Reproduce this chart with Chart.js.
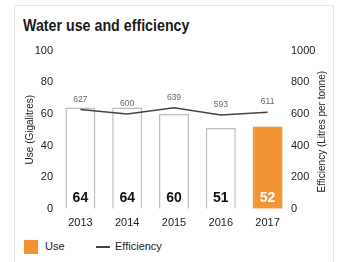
<!DOCTYPE html>
<html>
<head>
<meta charset="utf-8">
<script src="https://cdn.jsdelivr.net/npm/chart.js@4/dist/chart.umd.min.js"></script>
<style>
  html, body { margin: 0; padding: 0; background: #fff; }
  body { width: 343px; height: 262px; position: relative; overflow: hidden;
         font-family: 'Liberation Sans', Arial, sans-serif; }
  .card { position: absolute; left: 14px; top: 5px; width: 320px; height: 270px;
          border: 1px solid #e6e6e6; box-sizing: border-box; }
  .titulo { position: absolute; left: 23px; top: 17px; font-size: 16px; font-weight: bold;
            color: #1a1a1a; transform: scaleX(0.89); transform-origin: left top;
            white-space: nowrap; }
  #wrap { position: absolute; left: 15px; top: 40px; width: 322px; height: 198px; }
  .leyenda { position: absolute; top: 238px; left: 24px; font-size: 11px; color: #222; }
  .leyenda span { position: absolute; white-space: nowrap; }
  .caja { left: 0; top: 2px; width: 14px; height: 14px; background: #f39433; }
  .raya { left: 72px; top: 8px; width: 14px; height: 2px; background: #444; }
</style>
</head>
<body>
<div class="card"></div>
<div class="titulo">Water use and efficiency</div>
<div id="wrap"><canvas id="grafico"></canvas></div>
<div class="leyenda">
  <span class="caja"></span><span style="left:21px;top:2px">Use</span>
  <span class="raya"></span><span style="left:91px;top:2px">Efficiency</span>
</div>
<script>
// datos
const YEARS = ['2013', '2014', '2015', '2016', '2017'];
const USE = [64, 64, 60, 51, 52];             // Gigalitres
const EFFICIENCY = [627, 600, 639, 593, 611]; // Litres per tonne

const NARANJA = '#f39433';
const FUENTE = "'Liberation Sans', Arial, sans-serif";
const TITULO_DCHA = 'Efficiency (Litres per tonne)';

// etiquetas de valores sobre barras y linea + titulo del eje derecho
const etiquetas = {
  id: 'etiquetas',
  afterDatasetsDraw(chart) {
    const ctx = chart.ctx;
    ctx.save();
    ctx.textAlign = 'center';
    ctx.textBaseline = 'middle';
    const bars = chart.getDatasetMeta(1).data;
    bars.forEach((b, i) => {
      ctx.font = `bold 14px ${FUENTE}`;
      ctx.fillStyle = i === USE.length - 1 ? '#fff' : '#111';
      ctx.fillText(String(USE[i]), b.x, b.base - 11);
    });
    const pts = chart.getDatasetMeta(0).data;
    pts.forEach((p, i) => {
      ctx.font = `8.5px ${FUENTE}`;
      ctx.fillStyle = '#666';
      ctx.fillText(String(EFFICIENCY[i]), p.x, p.y - 10);
    });
    // titulo eje derecho, leido de abajo a arriba
    const s = chart.scales.y2;
    const ca = chart.chartArea;
    ctx.translate(s.right - 15, (ca.top + ca.bottom) / 2 + 2);
    ctx.rotate(-Math.PI / 2);
    ctx.font = `10px ${FUENTE}`;
    ctx.fillStyle = '#222';
    ctx.fillText(TITULO_DCHA, 0, 0);
    ctx.restore();
  }
};

new Chart(document.getElementById('grafico'), {
  data: {
    labels: YEARS,
    datasets: [
      {
        type: 'line',
        label: 'Efficiency',
        data: EFFICIENCY,
        yAxisID: 'y2',
        borderColor: '#444',
        borderWidth: 1.5,
        pointRadius: 0,
        tension: 0,
        order: 0
      },
      {
        type: 'bar',
        label: 'Use',
        data: USE,
        yAxisID: 'y',
        backgroundColor: USE.map((v, i) => i === USE.length - 1 ? NARANJA : '#fff'),
        borderColor: USE.map((v, i) => i === USE.length - 1 ? NARANJA : '#bdbdbd'),
        borderWidth: 1.5,
        barPercentage: 0.64,
        categoryPercentage: 1,
        order: 1
      }
    ]
  },
  options: {
    responsive: true,
    maintainAspectRatio: false,
    animation: false,
    layout: { padding: { top: 5, right: 0, left: 0, bottom: 0 } },
    plugins: { legend: { display: false }, tooltip: { enabled: false } },
    scales: {
      x: {
        grid: { display: false, drawTicks: false },
        border: { display: false },
        ticks: { color: '#222', font: { family: FUENTE, size: 11 }, padding: 8 }
      },
      y: {
        position: 'left',
        min: 0, max: 100,
        ticks: { stepSize: 20, color: '#222', font: { family: FUENTE, size: 11 }, padding: 4 },
        grid: { display: false, drawTicks: false },
        border: { display: false },
        title: { display: true, text: 'Use (Gigalitres)', color: '#222',
                 font: { family: FUENTE, size: 10 }, padding: { top: 9, bottom: 2 } },
        afterFit: (s) => { s.width = 42; }
      },
      y2: {
        position: 'right',
        min: 0, max: 1000,
        ticks: { stepSize: 200, color: '#222', font: { family: FUENTE, size: 11 }, padding: 0,
                 callback: (v) => String(v) },
        grid: { display: false, drawTicks: false },
        border: { display: false },
        afterFit: (s) => { s.width = 46; }
      }
    }
  },
  plugins: [etiquetas]
});
</script>
</body>
</html>
